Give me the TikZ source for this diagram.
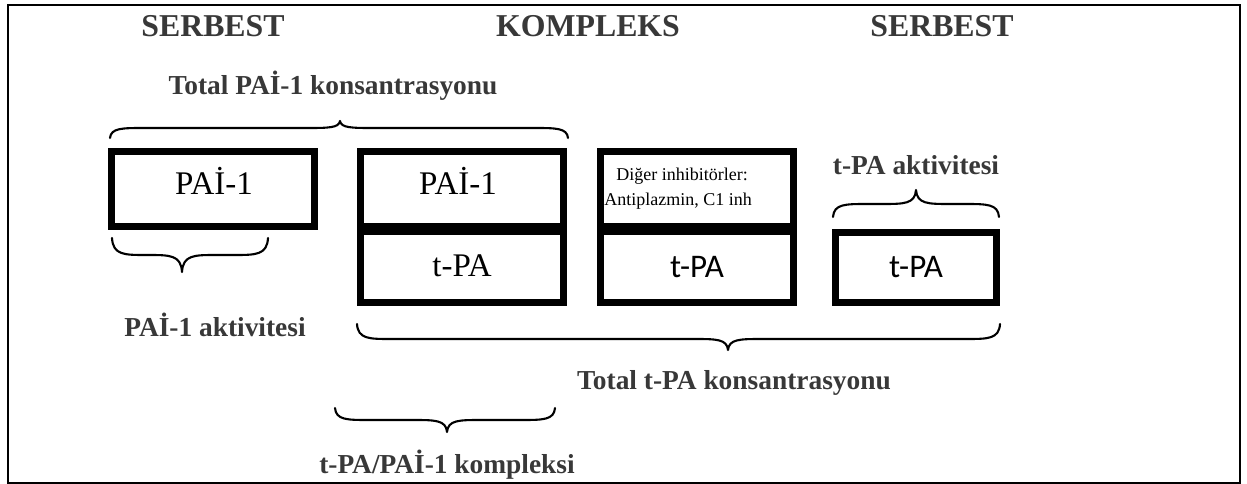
\documentclass[tikz,border=0pt]{standalone}
\usepackage{fontspec}
\setmainfont{Liberation Serif}
\newfontfamily\labelsans{Carlito}
% curly brace: x-left, x-right, x-tip, y-ends, y-body, y-tip
\newcommand{\cbrace}[6]{%
  \draw[brace] (#1,#4) .. controls (#1+1,#5) and (#1+12,#5) .. (#1+34,#5)
    -- (#3-34,#5) .. controls (#3-12,#5) and (#3-1,#5) .. (#3,#6)
    .. controls (#3+1,#5) and (#3+12,#5) .. (#3+34,#5)
    -- (#2-34,#5) .. controls (#2-12,#5) and (#2-1,#5) .. (#2,#4);}
\begin{document}
\begin{tikzpicture}[x=1pt,y=-1pt,
  frame/.style={draw=black, line width=2pt},
  box/.style={draw=black, line width=7pt, inner sep=0pt},
  head/.style={font=\fontsize{31.8}{36}\selectfont\bfseries, text=black!78, anchor=base, inner sep=0pt},
  lab/.style={font=\fontsize{27.4}{30}\selectfont\bfseries, text=black!78, anchor=base, inner sep=0pt},
  serif/.style={font=\fontsize{33}{35}\selectfont, anchor=base, inner sep=0pt},
  sanslab/.style={font=\labelsans\fontsize{33}{35}\selectfont, anchor=base, inner sep=0pt},
  small/.style={font=\fontsize{18}{21}\selectfont, anchor=base, inner sep=0pt},
  brace/.style={draw=black, line width=2.1pt, line cap=round, line join=round},
]
\useasboundingbox (0,0) rectangle (1247,484);
\fill[white] (0,0) rectangle (1247,484);
\draw[frame] (8,5) rectangle (1240,483);

% column headings
\node[head] (h1) at (213,37) {SERBEST};
\node[head] (h2) at (588,37) {KOMPLEKS};
\node[head] (h3) at (942,37) {SERBEST};

% boxes
\node[box, minimum width=203pt, minimum height=75pt] (b1) at (213,189) {};
\node[box, minimum width=203pt, minimum height=75pt] (b2t) at (462,189) {};
\node[box, minimum width=203pt, minimum height=71pt] (b2b) at (462,267) {};
\node[box, minimum width=193pt, minimum height=75pt] (b3t) at (697,189) {};
\node[box, minimum width=193pt, minimum height=71pt] (b3b) at (697,267) {};
\node[box, minimum width=161pt, minimum height=70pt] (b4) at (916,267.5) {};

% box texts
\node[serif] (t1) at (214,194) {PAİ-1};
\node[serif] (t2) at (458,194) {PAİ-1};
\node[serif] (t3) at (462,276) {t-PA};
\node[small] (t4) at (682,180) {Diğer inhibitörler:};
\node[small] (t5) at (678,205) {Antiplazmin, C1 inh};
\node[sanslab] (t6) at (697,277) {t-PA};
\node[sanslab] (t7) at (916,277) {t-PA};

% braces and their labels
\node[lab] (l1) at (333,95) {Total PAİ-1 konsantrasyonu};
\cbrace{110}{568}{340}{138}{128}{121}
\node[lab] (l2) at (916,175) {t-PA aktivitesi};
\cbrace{833}{999}{916}{217}{204}{190}
\cbrace{112}{268}{182}{238}{255}{272}
\node[lab] (l3) at (215,336) {PAİ-1 aktivitesi};
\cbrace{357}{1000}{728}{324}{339}{350}
\node[lab] (l4) at (734,389) {Total t-PA konsantrasyonu};
\cbrace{335}{555}{447}{408}{420}{432}
\node[lab] (l5) at (447,473) {t-PA/PAİ-1 kompleksi};
\end{tikzpicture}
\end{document}
